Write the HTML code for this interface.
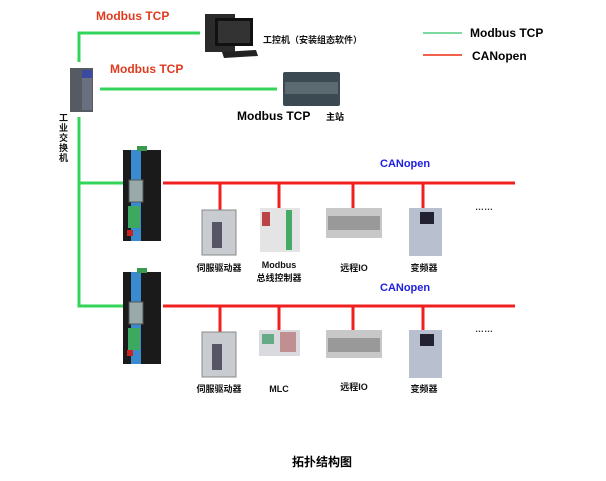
<!DOCTYPE html>
<html><head><meta charset="utf-8"><style>
html,body{margin:0;padding:0;background:#fff;width:606px;height:481px;overflow:hidden}
svg{display:block}
text{font-family:"Liberation Sans","Noto Sans CJK SC",sans-serif;font-weight:bold}
</style></head><body>
<svg width="606" height="481" viewBox="0 0 606 481" xmlns="http://www.w3.org/2000/svg">
<!-- green lines -->
<g stroke="#33d45a" stroke-width="3" fill="none">
<polyline points="79,62 79,33 200,33"/>
<line x1="100" y1="89" x2="277" y2="89"/>
<polyline points="79,117 79,306 123,306"/>
<line x1="79" y1="183" x2="123" y2="183"/>
</g>
<!-- red lines -->
<g stroke="#f02020" stroke-width="3" fill="none">
<line x1="163" y1="183" x2="515" y2="183"/>
<line x1="163" y1="306" x2="515" y2="306"/>
<line x1="220" y1="183" x2="220" y2="210"/>
<line x1="279" y1="183" x2="279" y2="210"/>
<line x1="353" y1="183" x2="353" y2="210"/>
<line x1="423" y1="183" x2="423" y2="210"/>
<line x1="220" y1="306" x2="220" y2="332"/>
<line x1="279" y1="306" x2="279" y2="332"/>
<line x1="353" y1="306" x2="353" y2="332"/>
<line x1="423" y1="306" x2="423" y2="332"/>
</g>
<!-- legend -->
<line x1="423" y1="33" x2="462" y2="33" stroke="#7ed9a0" stroke-width="2"/>
<line x1="423" y1="55" x2="462" y2="55" stroke="#f0604a" stroke-width="2"/>
<text x="470" y="37" font-size="12" fill="#000">Modbus TCP</text>
<text x="472" y="60" font-size="12" fill="#000">CANopen</text>
<!-- red labels -->
<text x="96" y="20" font-size="12" fill="#e03a1e">Modbus TCP</text>
<text x="110" y="73" font-size="12" fill="#e03a1e">Modbus TCP</text>
<text x="380" y="167" font-size="11" fill="#2020e0">CANopen</text>
<text x="380" y="291" font-size="11" fill="#2020e0">CANopen</text>
<!-- PC -->
<rect x="205" y="14" width="30" height="38" fill="#2a2a2a"/>
<rect x="215" y="18" width="38" height="28" fill="#111"/>
<rect x="218" y="21" width="32" height="22" fill="#333"/>
<polygon points="222,52 256,50 258,56 224,58" fill="#222"/>
<text x="263" y="43" font-size="9" fill="#111">工控机（安装组态软件）</text>
<!-- PLC -->
<rect x="283" y="72" width="57" height="34" fill="#3b4a52" rx="2"/>
<rect x="285" y="82" width="53" height="12" fill="#5b6a70"/>
<text x="237" y="120" font-size="12" fill="#000">Modbus TCP</text>
<text x="326" y="120" font-size="9" fill="#000">主站</text>
<!-- switch -->
<rect x="70" y="68" width="23" height="44" fill="#555b60"/>
<rect x="82" y="70" width="10" height="40" fill="#6a7080"/>
<rect x="82" y="70" width="10" height="8" fill="#3a4aa0"/>
<text font-size="9" fill="#111"><tspan x="59" y="121">工</tspan><tspan x="59" y="131">业</tspan><tspan x="59" y="141">交</tspan><tspan x="59" y="151">换</tspan><tspan x="59" y="161">机</tspan></text>
<!-- gateways -->
<g>
<rect x="123" y="150" width="38" height="91" fill="#1a1a1a"/>
<rect x="131" y="150" width="10" height="91" fill="#3a8ad0"/>
<rect x="129" y="180" width="14" height="22" fill="#9aa" stroke="#555"/>
<rect x="128" y="206" width="12" height="22" fill="#3ca860"/>
<rect x="127" y="230" width="6" height="6" fill="#c22"/>
<rect x="137" y="146" width="10" height="5" fill="#3a9a50"/>
</g>
<g>
<rect x="123" y="272" width="38" height="92" fill="#1a1a1a"/>
<rect x="131" y="272" width="10" height="92" fill="#3a8ad0"/>
<rect x="129" y="302" width="14" height="22" fill="#9aa" stroke="#555"/>
<rect x="128" y="328" width="12" height="22" fill="#3ca860"/>
<rect x="127" y="350" width="6" height="6" fill="#c22"/>
<rect x="137" y="268" width="10" height="5" fill="#3a9a50"/>
</g>
<!-- row 1 devices -->
<rect x="202" y="210" width="34" height="45" fill="#c8ccd0" stroke="#888"/>
<rect x="212" y="222" width="10" height="26" fill="#556"/>
<rect x="260" y="208" width="40" height="44" fill="#e4e4e4"/>
<rect x="262" y="212" width="8" height="14" fill="#b44"/>
<rect x="286" y="210" width="6" height="40" fill="#4a6"/>
<rect x="326" y="208" width="56" height="30" fill="#c8c8c8"/>
<rect x="328" y="216" width="52" height="14" fill="#999"/>
<rect x="409" y="208" width="33" height="48" fill="#b8c0d0"/>
<rect x="420" y="212" width="14" height="12" fill="#223"/>
<text x="475" y="210" font-size="9" fill="#333">……</text>
<g font-size="9" fill="#111" text-anchor="middle">
<text x="219" y="271">伺服驱动器</text>
<text x="279" y="268">Modbus</text>
<text x="279" y="281">总线控制器</text>
<text x="354" y="271">远程IO</text>
<text x="424" y="271">变频器</text>
</g>
<!-- row 2 devices -->
<rect x="202" y="332" width="34" height="45" fill="#c8ccd0" stroke="#888"/>
<rect x="212" y="344" width="10" height="26" fill="#556"/>
<rect x="259" y="330" width="41" height="26" fill="#d8dade"/>
<rect x="262" y="334" width="12" height="10" fill="#6a8"/>
<rect x="280" y="332" width="16" height="20" fill="#a44" opacity="0.5"/>
<rect x="326" y="330" width="56" height="28" fill="#c8c8c8"/>
<rect x="328" y="338" width="52" height="14" fill="#999"/>
<rect x="409" y="330" width="33" height="48" fill="#b8c0d0"/>
<rect x="420" y="334" width="14" height="12" fill="#223"/>
<text x="475" y="332" font-size="9" fill="#333">……</text>
<g font-size="9" fill="#111" text-anchor="middle">
<text x="219" y="392">伺服驱动器</text>
<text x="279" y="392">MLC</text>
<text x="354" y="390">远程IO</text>
<text x="424" y="392">变频器</text>
</g>
<text x="322" y="466" font-size="12" fill="#000" text-anchor="middle">拓扑结构图</text>
</svg>
</body></html>
